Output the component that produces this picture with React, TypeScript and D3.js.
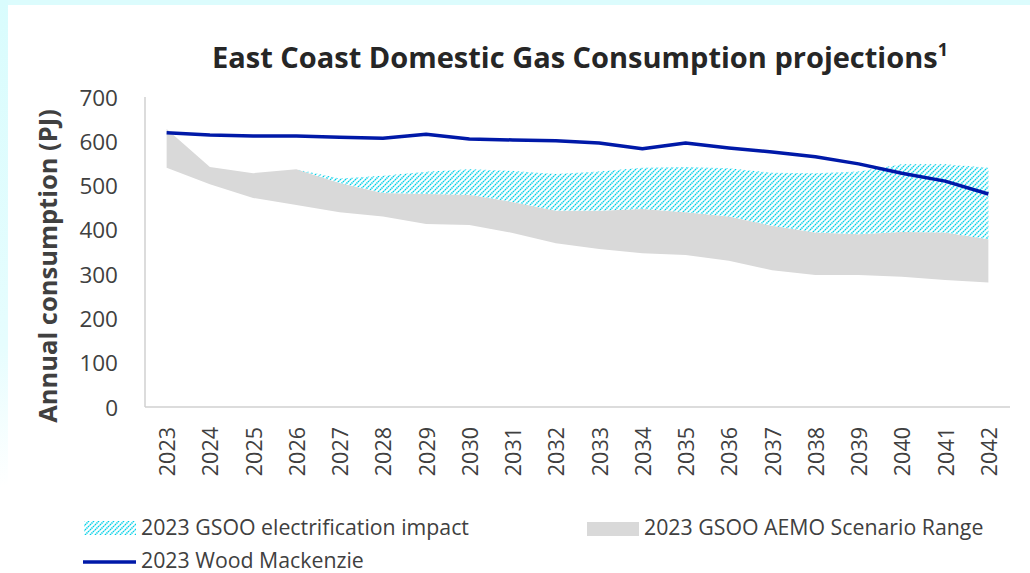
import React from "react";
import * as d3 from "d3";

const years = [2023, 2024, 2025, 2026, 2027, 2028, 2029, 2030, 2031, 2032, 2033, 2034, 2035, 2036, 2037, 2038, 2039, 2040, 2041, 2042];
const woodMackenzie = [619, 614, 612, 612, 609, 607, 616, 605, 603, 601, 596, 583, 596, 585, 576, 565, 549, 528, 510, 481];
const rangeLow = [540, 503, 472, 456, 440, 430, 413, 411, 393, 370, 357, 347, 343, 330, 309, 298, 298, 294, 287, 281];
const rangeHigh = [628, 542, 528, 537, 506, 483, 481, 479, 463, 443, 443, 447, 440, 430, 409, 394, 390, 395, 394, 379];
const electrificationTop: (number | null)[] = [null, null, null, 537, 516, 522, 531, 537, 533, 526, 532, 540, 542, 539, 529, 528, 532, 548, 548, 540];
const yTicks = [0, 100, 200, 300, 400, 500, 600, 700];

const W = 1030;
const H = 573;
const FONT = "'Open Sans', sans-serif";

export default function App() {
  const x = d3.scaleBand<number>().domain(years).range([145, 1010]).padding(0);
  const cx = (yr: number) => (x(yr) as number) + x.bandwidth() / 2;
  const y = d3.scaleLinear().domain([0, 700]).range([407, 97]);

  const grayArea = d3
    .area<number>()
    .x((_, i) => cx(years[i]))
    .y0((_, i) => y(rangeLow[i]))
    .y1((_, i) => y(rangeHigh[i]))(years.map((d) => d)) as string;

  const hatchArea = d3
    .area<number>()
    .defined((_, i) => electrificationTop[i] !== null)
    .x((_, i) => cx(years[i]))
    .y0((_, i) => y(rangeHigh[i]))
    .y1((_, i) => y(electrificationTop[i] as number))(years.map((d) => d)) as string;

  const line = d3
    .line<number>()
    .x((_, i) => cx(years[i]))
    .y((d) => y(d))(woodMackenzie) as string;

  return (
    <svg width={W} height={H} style={{ position: "absolute", left: 0, top: 0, background: "#fff" }} fontFamily={FONT}>
      <defs>
        <linearGradient id="leftBand" x1="0" y1="0" x2="0" y2="1">
          <stop offset="0" stopColor="#d9fcfd" />
          <stop offset="0.6" stopColor="#e6fdfe" />
          <stop offset="0.85" stopColor="#ffffff" />
        </linearGradient>
        <pattern id="hatch" patternUnits="userSpaceOnUse" width="5" height="5">
          <rect width="5" height="5" fill="#ffffff" />
          <path d="M-1,1 L1,-1 M0,5 L5,0 M4,6 L6,4" stroke="#00d0e8" strokeWidth="1.6" strokeDasharray="1.4 0.7" />
        </pattern>
      </defs>
      <rect x={0} y={0} width={W} height={H} fill="#ffffff" />
      <rect x={0} y={0} width={W} height={5} fill="#dcfcfd" />
      <rect x={0} y={0} width={8} height={H} fill="url(#leftBand)" />

      <text x={580} y={68} textAnchor="middle" fontSize={29} fontWeight={700} fill="#262626">
        East Coast Domestic Gas Consumption projections
        <tspan fontSize={18} dy={-12}>1</tspan>
      </text>

      <path d={grayArea} fill="#d9d9d9" />
      <path d={hatchArea} fill="url(#hatch)" />

      <line x1={145} x2={145} y1={97} y2={407} stroke="#d0d0d0" strokeWidth={1.5} />
      <line x1={145} x2={1010} y1={407} y2={407} stroke="#d0d0d0" strokeWidth={1.5} />

      <path d={line} fill="none" stroke="#0019a8" strokeWidth={3.5} strokeLinejoin="round" />

      {yTicks.map((t) => (
        <text key={t} x={118} y={y(t)} textAnchor="end" dominantBaseline="central" fontSize={22.5} fill="#404040">
          {t}
        </text>
      ))}
      {years.map((yr) => (
        <text
          key={yr}
          transform={`translate(${cx(yr)},427) rotate(-90)`}
          textAnchor="end"
          dominantBaseline="central"
          fontSize={21.5}
          fill="#404040"
        >
          {yr}
        </text>
      ))}

      <text transform="translate(47,266) rotate(-90)" textAnchor="middle" dominantBaseline="central" fontSize={25.5} fontWeight={700} fill="#404040">
        Annual consumption (PJ)
      </text>

      <rect x={84} y={521} width={52} height={14} fill="url(#hatch)" />
      <text x={141} y={535} fontSize={21.3} fill="#404040">2023 GSOO electrification impact</text>
      <rect x={587} y={522} width={52} height={14} fill="#d9d9d9" />
      <text x={644} y={535} fontSize={21.3} fill="#404040">2023 GSOO AEMO Scenario Range</text>
      <line x1={83} x2={136} y1={562} y2={562} stroke="#0019a8" strokeWidth={3.5} />
      <text x={141} y={568} fontSize={21.3} fill="#404040">2023 Wood Mackenzie</text>
    </svg>
  );
}
